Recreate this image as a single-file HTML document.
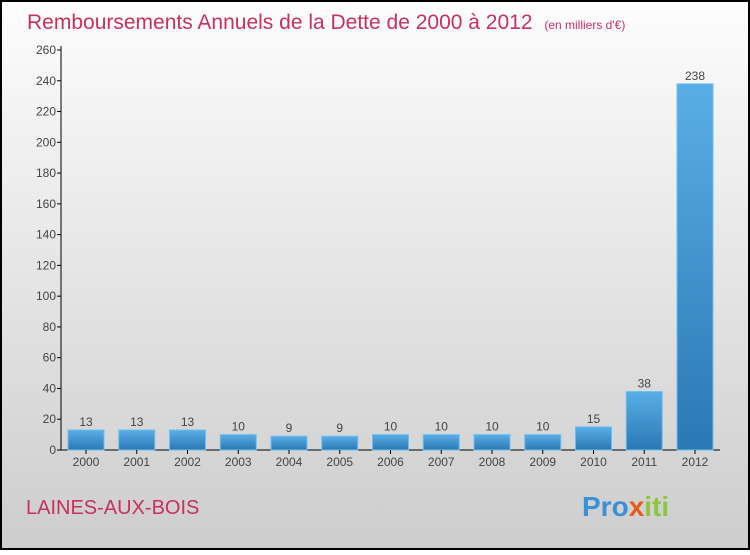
<!DOCTYPE html>
<html><head><meta charset="utf-8"><style>
body{margin:0;width:750px;height:550px;overflow:hidden;font-family:"Liberation Sans",sans-serif}
</style></head><body>
<svg width="750" height="550" xmlns="http://www.w3.org/2000/svg">
<defs>
<linearGradient id="bg" x1="0" y1="0" x2="0" y2="1"><stop offset="0" stop-color="#fdfdfd"/><stop offset="1" stop-color="#cdcdcd"/></linearGradient>
<linearGradient id="bar" x1="0" y1="0" x2="0" y2="1"><stop offset="0" stop-color="#5aaee6"/><stop offset="1" stop-color="#2a78b4"/></linearGradient>
</defs>
<rect x="1" y="1" width="748" height="548" fill="url(#bg)" stroke="#000" stroke-width="2"/>
<text x="27" y="29" font-size="21" fill="#c8305e">Remboursements Annuels de la Dette de 2000 à 2012 <tspan font-size="12" dx="6">(en milliers d'€)</tspan></text>
<g id="plot"></g>
<text x="26" y="514" font-size="20" fill="#c8305e">LAINES-AUX-BOIS</text>
<text x="582" y="516" font-size="28" font-weight="bold"><tspan fill="#3a8fd8">Pro</tspan><tspan fill="#e85a1a">x</tspan><tspan fill="#8cc63f">iti</tspan></text>
</svg>
<script>
const categories=["2000","2001","2002","2003","2004","2005","2006","2007","2008","2009","2010","2011","2012"];
const values=[13,13,13,10,9,9,10,10,10,10,15,38,238];
const yTicks=[0,20,40,60,80,100,120,140,160,180,200,220,240,260];
const NS="http://www.w3.org/2000/svg";
const g=document.getElementById("plot");
const y=v=>450-v*400/260;
const x=i=>86+i*50.75;
function mk(t,a){const e=document.createElementNS(NS,t);for(const k in a)e.setAttribute(k,a[k]);g.appendChild(e);return e;}
const ya=mk("line",{x1:61,y1:46,x2:61,y2:450,stroke:"#000"});


const xa=mk("line",{x1:61,y1:450,x2:720,y2:450,stroke:"#000"});


yTicks.forEach(v=>{
 const t=mk("line",{x1:57,y1:y(v),x2:61,y2:y(v),stroke:"#000"});
 
 
 const l=mk("text",{x:56,y:y(v)+4,"font-size":12,fill:"#444","text-anchor":"end"});
 l.textContent=v;
 
 
});
categories.forEach((c,i)=>{
 const v=values[i];
 const b=mk("rect",{x:x(i)-18,y:y(v),width:36,height:450-y(v),fill:"url(#bar)",stroke:"#6cc0f0","stroke-width":1});
 
 
 const t=mk("line",{x1:x(i),y1:450,x2:x(i),y2:454,stroke:"#000"});
 
 
 const l=mk("text",{x:x(i),y:466,"font-size":12,fill:"#444","text-anchor":"middle"});
 l.textContent=c;
 
 
 const vl=mk("text",{x:x(i),y:y(v)-4,"font-size":12,fill:"#444","text-anchor":"middle"});
 vl.textContent=v;
 
 
});
</script>
</body></html>
